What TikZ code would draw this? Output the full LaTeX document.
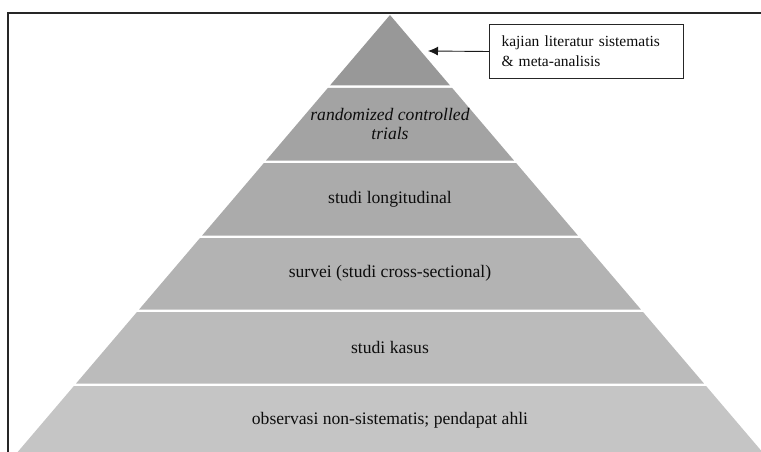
\documentclass[tikz,border=0pt]{standalone}
\usepackage{fontspec}
\setmainfont{Liberation Serif}
\usetikzlibrary{arrows.meta}
\definecolor{lvA}{RGB}{152,152,152}
\definecolor{lvB}{RGB}{163,163,163}
\definecolor{lvC}{RGB}{171,171,171}
\definecolor{lvD}{RGB}{179,179,179}
\definecolor{lvE}{RGB}{187,187,187}
\definecolor{lvF}{RGB}{197,197,197}
\tikzset{
  lvlabel/.style={font=\fontsize{17.6}{20}\selectfont, text=black!95, align=center, inner sep=0pt},
  notebox/.style={draw=black!85, line width=1pt, fill=white, minimum width=194pt, minimum height=54pt,
    text width=170pt, inner xsep=12pt, align=left, font=\fontsize{15.5}{20}\selectfont, text=black!95},
  frameline/.style={draw=black!85, line width=1.5pt},
  pointer/.style={draw=black!90, line width=0.9pt, -{Latex[length=10pt,width=9pt]}}
}
\newcommand{\cxp}{390}
\newcommand{\kslope}{0.852}
\newcommand{\apexy}{15}
% trapezoid between y1 and y2
\newcommand{\lvtrap}[3]{%
  \fill[#3] ({\cxp-\kslope*(#1-\apexy)},#1) -- ({\cxp+\kslope*(#1-\apexy)},#1)
    -- ({\cxp+\kslope*(#2-\apexy)},#2) -- ({\cxp-\kslope*(#2-\apexy)},#2) -- cycle;}
\begin{document}
\begin{tikzpicture}[x=1pt,y=-1pt]
\useasboundingbox (0,0) rectangle (761,452);
\begin{scope}
\clip (0,0) rectangle (761,452);
% frame
\draw[frameline] (8,460) -- (8,13) -- (770,13);
% pyramid levels
\lvtrap{15}{85.5}{lvA}
\lvtrap{88}{160.5}{lvB}
\lvtrap{163}{235.5}{lvC}
\lvtrap{238}{309.5}{lvD}
\lvtrap{312}{383.5}{lvE}
\lvtrap{386}{470}{lvF}
\end{scope}
% labels
\node[lvlabel, font=\fontsize{17.6}{19}\selectfont\itshape] (rct) at (390,124) {randomized controlled\\trials};
\node[lvlabel] (lon) at (390,199) {studi longitudinal};
\node[lvlabel] (sur) at (390,273) {survei (studi cross-sectional)};
\node[lvlabel] (kas) at (390,347) {studi kasus};
\node[lvlabel] (obs) at (390,420) {observasi non-sistematis; pendapat ahli};
% note box and arrow
\node[notebox, anchor=north west] (box) at (489,24) {kajian literatur sistematis\\\& meta-analisis};
\coordinate (tip) at (428,51);
\draw[pointer] (box.west) -- (tip);
\end{tikzpicture}
\end{document}
